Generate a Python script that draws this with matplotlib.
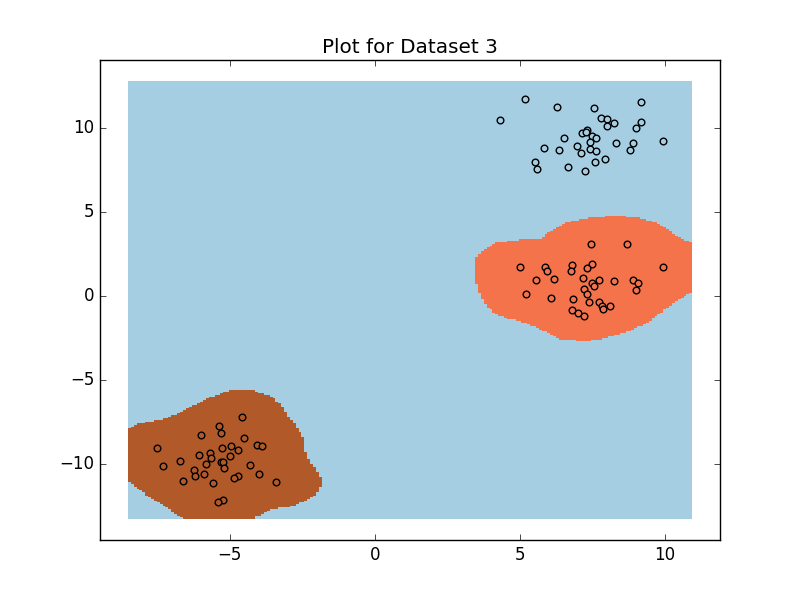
'''
Decision regions and sample points for dataset 3.
'''
import numpy as np
import matplotlib
matplotlib.use('Agg')
import matplotlib.pyplot as plt
from matplotlib.colors import ListedColormap
from matplotlib.path import Path

# samples of each class
top_x = [5.17, 4.33, 6.29, 7.56, 9.19, 7.79, 8.0, 8.25, 7.99, 9.17, 9.01, 7.31,
         7.15, 7.29, 7.49, 7.61, 6.53, 7.4, 8.32, 8.91, 9.93, 5.82, 6.97, 7.4,
         8.8, 6.34, 7.09, 7.62, 7.94, 7.59, 5.52, 5.6, 6.66, 7.24]
top_y = [11.7, 10.44, 11.21, 11.17, 11.51, 10.54, 10.48, 10.28, 10.1, 10.32, 10.0, 9.88,
         9.68, 9.74, 9.5, 9.39, 9.39, 9.11, 9.07, 9.09, 9.17, 8.81, 8.89, 8.75,
         8.69, 8.65, 8.51, 8.63, 8.13, 7.96, 7.92, 7.52, 7.66, 7.42]

mid_x = [7.46, 8.71, 9.92, 4.99, 5.85, 5.94, 6.8, 6.76, 7.49, 7.31, 5.54, 6.17,
         7.18, 7.72, 7.49, 7.54, 8.23, 8.9, 9.07, 9.01, 7.2, 7.3, 5.2, 6.07,
         6.83, 7.38, 7.74, 7.82, 7.87, 8.09, 6.8, 6.99, 7.2]
mid_y = [3.04, 3.07, 1.71, 1.71, 1.69, 1.49, 1.79, 1.49, 1.86, 1.61, 0.95, 0.97,
         1.05, 0.91, 0.76, 0.54, 0.85, 0.91, 0.77, 0.32, 0.36, 0.08, 0.1, -0.12,
         -0.18, -0.38, -0.4, -0.64, -0.79, -0.65, -0.85, -1.01, -1.19]

low_x = [-4.6, -5.36, -5.31, -5.99, -4.52, -7.52, -5.29, -4.95, -4.72, -4.08, -3.91,
         -5.67, -6.05, -5.64, -4.98, -6.71, -5.84, -5.31, -5.23, -5.2, -4.3, -7.3,
         -6.24, -6.22, -5.91, -4.0, -4.73, -4.85, -6.61, -5.59, -3.4, -5.25, -5.4]
low_y = [-7.2, -7.78, -8.21, -8.33, -8.49, -9.05, -9.07, -8.93, -9.19, -8.87, -8.93,
         -9.36, -9.48, -9.68, -9.58, -9.84, -10.0, -9.92, -9.88, -10.24, -10.08, -10.16,
         -10.38, -10.77, -10.61, -10.65, -10.77, -10.85, -11.01, -11.15, -11.11, -12.18, -12.28]

# outlines of the two coloured regions
mid_region_x = [3.41, 3.56, 3.79, 4.14, 4.89, 5.72, 6.15, 6.55, 7.47, 8.33, 9.14, 9.83,
                10.4, 10.92, 11.5, 11.5, 10.92, 10.4, 9.83, 9.31, 8.68, 7.87, 7.18,
                6.38, 5.69, 5.11, 4.48, 4.08, 3.74, 3.56, 3.41]
mid_region_y = [1.98, 2.44, 2.78, 3.11, 3.31, 3.41, 3.93, 4.33, 4.66, 4.76, 4.62, 4.27,
                3.57, 3.11, 3.11, 0.2, 0.2, -0.3, -1.09, -1.69, -2.18, -2.58, -2.72,
                -2.58, -1.98, -1.59, -1.33, -0.99, -0.4, 0.4, 1.19]

low_region_x = [-9.0, -8.52, -8.1, -7.41, -6.95, -6.26, -5.69, -5.0, -4.2, -3.62, -3.22,
                -2.99, -2.59, -2.39, -2.38, -2.13, -1.84, -1.9, -2.24, -2.82, -3.62,
                -4.14, -4.14, -6.61, -6.61, -7.18, -7.64, -8.1, -8.52, -9.0]
low_region_y = [-7.9, -7.9, -7.6, -7.4, -7.14, -6.55, -6.05, -5.65, -5.65, -5.99, -6.45,
                -7.14, -8.13, -8.63, -9.52, -10.12, -10.91, -11.61, -12.1, -12.5, -12.76,
                -13.2, -14.0, -14.0, -13.33, -12.6, -12.14, -11.6, -11.01, -11.01]

colors = ['#a6cee3', '#f4734a', '#b15928']


def plot(path='out.png'):
    plt.style.use('classic')
    fig, ax = plt.subplots(figsize=(8, 6))

    # classify a fine grid, this gives the stepped region edges
    xx, yy = np.meshgrid(np.arange(-8.47, 10.9, 0.0998), np.arange(-13.25, 12.72, 0.0998))
    grid = np.c_[xx.ravel(), yy.ravel()]
    z = np.zeros(len(grid))
    z[Path(np.c_[mid_region_x, mid_region_y]).contains_points(grid)] = 1
    z[Path(np.c_[low_region_x, low_region_y]).contains_points(grid)] = 2
    z = z.reshape(xx.shape)

    cmap = ListedColormap(colors)
    ax.pcolormesh(xx, yy, z, cmap=cmap, vmin=0, vmax=2, shading='nearest')

    ax.scatter(top_x, top_y, s=23, c=colors[0], edgecolors='k', linewidths=1)
    ax.scatter(mid_x, mid_y, s=23, c=colors[1], edgecolors='k', linewidths=1)
    ax.scatter(low_x, low_y, s=23, c=colors[2], edgecolors='k', linewidths=1)

    ax.set_xlim(-9.48, 11.9)
    ax.set_ylim(-14.55, 14.02)
    ax.set_xticks([-5, 0, 5, 10])
    ax.set_yticks([-10, -5, 0, 5, 10])
    ax.set_title('Plot for Dataset 3')

    fig.savefig(path, dpi=100)


plot()
